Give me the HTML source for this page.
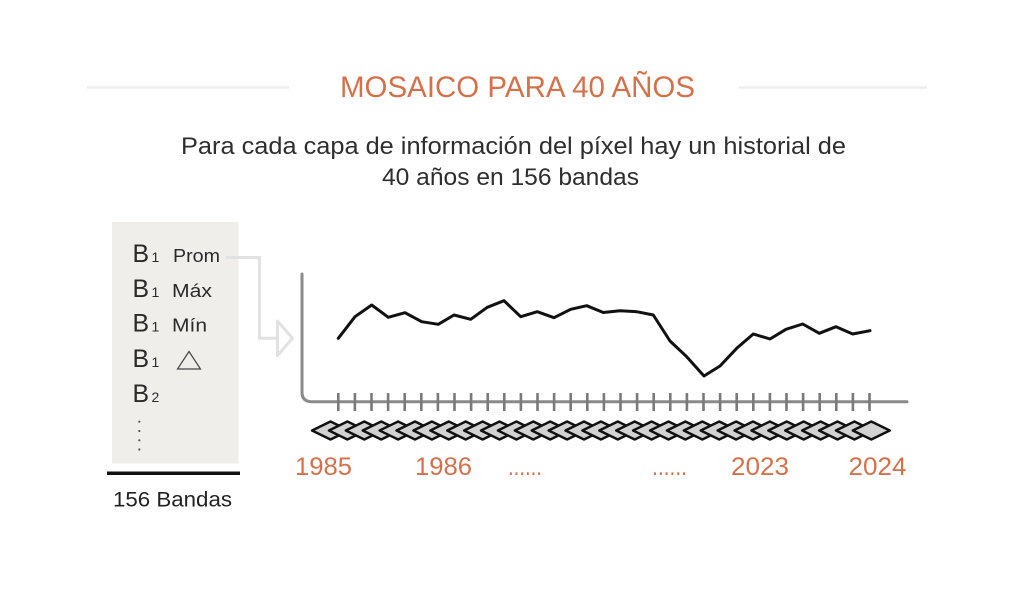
<!DOCTYPE html>
<html>
<head>
<meta charset="utf-8">
<style>
html,body{margin:0;padding:0;background:#fff;}
svg{display:block;}
text{font-family:"Liberation Sans",sans-serif;}
</style>
</head>
<body>
<svg width="1024" height="591" viewBox="0 0 1024 591" xmlns="http://www.w3.org/2000/svg">
<rect width="1024" height="591" fill="#ffffff"/>
<!-- title lines -->
<line x1="87" y1="87.5" x2="289" y2="87.5" stroke="#eeeeec" stroke-width="2.5"/>
<line x1="739" y1="87.5" x2="927" y2="87.5" stroke="#eeeeec" stroke-width="2.5"/>
<text x="340" y="97" font-size="30" fill="#d5714a" textLength="355" lengthAdjust="spacingAndGlyphs">MOSAICO PARA 40 AÑOS</text>
<text x="181" y="154" font-size="24" fill="#2e2e2e" textLength="665" lengthAdjust="spacingAndGlyphs">Para cada capa de información del píxel hay un historial de</text>
<text x="382" y="185" font-size="24" fill="#2e2e2e" textLength="257" lengthAdjust="spacingAndGlyphs">40 años en 156 bandas</text>

<!-- left panel -->
<rect x="112" y="222" width="126.5" height="241.5" fill="#efeeeb"/>
<g fill="#2a2a2a">
<text x="132.5" y="262" font-size="25" textLength="16.6" lengthAdjust="spacingAndGlyphs">B</text>
<text x="151.5" y="262" font-size="14">1</text>
<text x="173" y="262" font-size="18" textLength="47" lengthAdjust="spacingAndGlyphs">Prom</text>
<text x="132.5" y="297" font-size="25" textLength="16.6" lengthAdjust="spacingAndGlyphs">B</text>
<text x="151.5" y="297" font-size="14">1</text>
<text x="172" y="297" font-size="18" textLength="40" lengthAdjust="spacingAndGlyphs">Máx</text>
<text x="132.5" y="331.5" font-size="25" textLength="16.6" lengthAdjust="spacingAndGlyphs">B</text>
<text x="151.5" y="331.5" font-size="14">1</text>
<text x="172" y="331.5" font-size="18" textLength="35" lengthAdjust="spacingAndGlyphs">Mín</text>
<text x="132.5" y="367" font-size="25" textLength="16.6" lengthAdjust="spacingAndGlyphs">B</text>
<text x="151.5" y="367" font-size="14">1</text>
<text x="132.5" y="402" font-size="25" textLength="16.6" lengthAdjust="spacingAndGlyphs">B</text>
<text x="151.5" y="402" font-size="14">2</text>
</g>
<polygon points="189,351.5 200.5,369 177.5,369" fill="none" stroke="#444" stroke-width="1.2"/>
<g fill="#555">
<circle cx="139.3" cy="421.7" r="1.1"/>
<circle cx="139.3" cy="431" r="1.1"/>
<circle cx="139.3" cy="440.3" r="1.1"/>
<circle cx="139.3" cy="449.5" r="1.1"/>
</g>
<line x1="107" y1="473.3" x2="240" y2="473.3" stroke="#111" stroke-width="3.5"/>
<text x="113" y="506.5" font-size="21" fill="#222" textLength="119" lengthAdjust="spacingAndGlyphs">156 Bandas</text>

<!-- connector -->
<polyline points="226,257.5 259.5,257.5 259.5,338.3 277,338.3" fill="none" stroke="#e2e2e2" stroke-width="3"/>
<polygon points="277.5,321 277.5,355.5 292.5,338.3" fill="none" stroke="#e2e2e2" stroke-width="3" stroke-linejoin="round"/>

<!-- axes -->
<path d="M302,274 V392 Q302,401.7 311.7,401.7 H907" fill="none" stroke="#8a8a8a" stroke-width="3" stroke-linecap="round"/>
<path stroke="#7a7a7a" stroke-width="2.6" fill="none" d="M338.3,393V411 M354.9,393V411 M371.5,393V411 M388.1,393V411 M404.7,393V411 M421.3,393V411 M437.9,393V411 M454.5,393V411 M471.1,393V411 M487.7,393V411 M504.3,393V411 M520.9,393V411 M537.5,393V411 M554.1,393V411 M570.7,393V411 M587.3,393V411 M603.9,393V411 M620.5,393V411 M637.1,393V411 M653.7,393V411 M670.3,393V411 M686.9,393V411 M703.5,393V411 M720.1,393V411 M736.7,393V411 M753.3,393V411 M769.9,393V411 M786.5,393V411 M803.1,393V411 M819.7,393V411 M836.3,393V411 M852.9,393V411 M869.5,393V411"/>

<!-- series -->
<polyline fill="none" stroke="#111" stroke-width="3" stroke-linejoin="round" stroke-linecap="round"
points="338.3,338.3 355,316.7 371.7,305 388.3,317.3 405,312.7 421.7,321.7 438.3,324.3 454,315 470.7,319.3 487.3,307.3 504,300.7 520.7,316.7 537.3,311.7 554,317.7 570.7,309.3 586.7,305.7 603.3,312.5 620,310.7 636.7,311.7 653.3,315 670,341 686.7,356.7 704,376 720,366 736.7,348.3 753.3,334 770,339 786,329.3 802.7,324 819.3,333.3 836,326.7 852.7,334 870,330.7"/>

<!-- diamond strip -->
<defs>
<polygon id="dm" points="0,430.5 18.5,421.5 37,430.5 18.5,439.5" fill="#d2d2d2" stroke="#111" stroke-width="2.4" stroke-linejoin="round"/>
</defs>
<use href="#dm" x="312"/><use href="#dm" x="328.9"/><use href="#dm" x="345.8"/><use href="#dm" x="362.7"/>
<use href="#dm" x="379.6"/><use href="#dm" x="396.5"/><use href="#dm" x="413.4"/><use href="#dm" x="430.3"/>
<use href="#dm" x="447.2"/><use href="#dm" x="464.1"/><use href="#dm" x="481"/><use href="#dm" x="497.9"/>
<use href="#dm" x="514.8"/><use href="#dm" x="531.7"/><use href="#dm" x="548.6"/><use href="#dm" x="565.5"/>
<use href="#dm" x="582.4"/><use href="#dm" x="599.3"/><use href="#dm" x="616.2"/><use href="#dm" x="633.1"/>
<use href="#dm" x="650"/><use href="#dm" x="666.9"/><use href="#dm" x="683.8"/><use href="#dm" x="700.7"/>
<use href="#dm" x="717.6"/><use href="#dm" x="734.5"/><use href="#dm" x="751.4"/><use href="#dm" x="768.3"/>
<use href="#dm" x="785.2"/><use href="#dm" x="802.1"/><use href="#dm" x="819"/><use href="#dm" x="835.9"/>
<use href="#dm" x="852.8"/>

<!-- year labels -->
<g fill="#d5714a" font-size="25">
<text x="295" y="475" textLength="57" lengthAdjust="spacingAndGlyphs">1985</text>
<text x="415" y="475" textLength="57" lengthAdjust="spacingAndGlyphs">1986</text>
<text x="508" y="475" textLength="34" lengthAdjust="spacingAndGlyphs">......</text>
<text x="652" y="475" textLength="35" lengthAdjust="spacingAndGlyphs">......</text>
<text x="731" y="475" textLength="58" lengthAdjust="spacingAndGlyphs">2023</text>
<text x="848.5" y="475" textLength="58" lengthAdjust="spacingAndGlyphs">2024</text>
</g>
</svg>
</body>
</html>
